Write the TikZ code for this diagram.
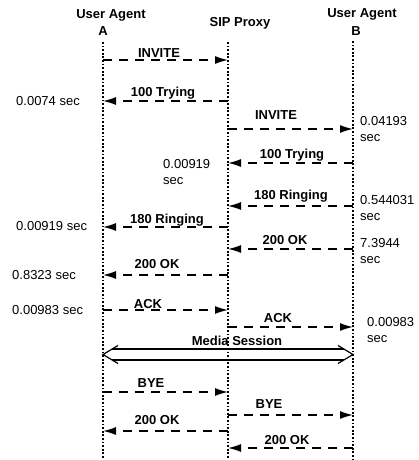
\documentclass[tikz,border=0pt]{standalone}
\usepackage{fontspec}
\setmainfont{Liberation Sans}
\usetikzlibrary{arrows.meta,calc}
\tikzset{
  lifeline/.style={line width=1.1pt, dash pattern=on 1.8pt off 1.8pt},
  msgline/.style={line width=1.3pt, dash pattern=on 9pt off 7pt, -{Latex[length=13pt,width=8pt]}},
  msglabel/.style={font=\fontsize{13}{15}\selectfont\bfseries, inner sep=0pt},
  timelabel/.style={font=\fontsize{13}{16}\selectfont, inner sep=0pt, align=left},
  head/.style={font=\fontsize{13}{15}\selectfont\bfseries, inner sep=0pt},
  media/.style={line width=1.2pt, line join=miter}
}
\begin{document}
\begin{tikzpicture}[x=1pt,y=-1pt]
\useasboundingbox (0,0) rectangle (419,460);
% headers
\node[head] (hA1) at (111,15) {User Agent};
\node[head] (hA2) at (103,31) {A};
\node[head] (hP) at (240,23) {SIP Proxy};
\node[head] (hB1) at (362,14) {User Agent};
\node[head] (hB2) at (356,31) {B};
% lifelines
\coordinate (At) at (103,42); \coordinate (Ab) at (103,460);
\coordinate (Pt) at (228,42); \coordinate (Pb) at (228,460);
\coordinate (Bt) at (353,41); \coordinate (Bb) at (353,460);
\draw[lifeline] (At) -- (Ab);
\draw[lifeline] (Pt) -- (Pb);
\draw[lifeline] (Bt) -- (Bb);
% message endpoints
\foreach \n/\y in {1/60,2/101,3/129,4/163,5/206,6/227,7/249,8/275,9/310,10/327,11/354.5,12/392,13/415,14/431,15/448}{
  \coordinate (A\n) at (103,\y);
  \coordinate (P\n) at (228,\y);
  \coordinate (B\n) at (353,\y);
}
% messages
\draw[msgline] (A1) -- (P1);
\node[msglabel] (l1) at (159,53) {INVITE};
\draw[msgline] (P2) -- (A2);
\node[msglabel] (l2) at (163,93) {100 Trying};
\node[timelabel, anchor=west] (t2) at (16,101) {0.0074 sec};
\draw[msgline] (P3) -- (B3);
\node[msglabel] (l3) at (276,115) {INVITE};
\node[timelabel, anchor=west] (t3) at (360,129) {0.04193\\sec};
\draw[msgline] (B4) -- (P4);
\node[msglabel] (l4) at (292,155) {100 Trying};
\node[timelabel, anchor=west] (t4) at (163,172) {0.00919\\sec};
\draw[msgline] (B5) -- (P5);
\node[msglabel] (l5) at (291,196) {180 Ringing};
\node[timelabel, anchor=west] (t5) at (360,208) {0.544031\\sec};
\draw[msgline] (P6) -- (A6);
\node[msglabel] (l6) at (167,220) {180 Ringing};
\node[timelabel, anchor=west] (t6) at (16,226) {0.00919 sec};
\draw[msgline] (B7) -- (P7);
\node[msglabel] (l7) at (285,240) {200 OK};
\node[timelabel, anchor=west] (t7) at (360,251) {7.3944\\sec};
\draw[msgline] (P8) -- (A8);
\node[msglabel] (l8) at (157,264) {200 OK};
\node[timelabel, anchor=west] (t8) at (12,275) {0.8323 sec};
\draw[msgline] (A9) -- (P9);
\node[msglabel] (l9) at (148,304) {ACK};
\node[timelabel, anchor=west] (t9) at (12,310) {0.00983 sec};
\draw[msgline] (P10) -- (B10);
\node[msglabel] (l10) at (278,318) {ACK};
\node[timelabel, anchor=west] (t10) at (367,330) {0.00983\\sec};
% media session (hollow double-headed arrow)
\draw[media] ($(A11)+(15,-9)$) -- (A11) -- ($(A11)+(15,9)$);
\draw[media] ($(B11)+(-15,-9)$) -- (B11) -- ($(B11)+(-15,9)$);
\draw[media] ($(A11)+(9.2,-5.5)$) -- ($(B11)+(-9.2,-5.5)$);
\draw[media] ($(A11)+(9.2,5.5)$) -- ($(B11)+(-9.2,5.5)$);
\node[msglabel] (l11) at (237,341) {Media Session};
\draw[msgline] (A12) -- (P12);
\node[msglabel] (l12) at (151,383) {BYE};
\draw[msgline] (P13) -- (B13);
\node[msglabel] (l13) at (269,404) {BYE};
\draw[msgline] (P14) -- (A14);
\node[msglabel] (l14) at (157,420) {200 OK};
\draw[msgline] (B15) -- (P15);
\node[msglabel] (l15) at (287,440) {200 OK};
\end{tikzpicture}
\end{document}
